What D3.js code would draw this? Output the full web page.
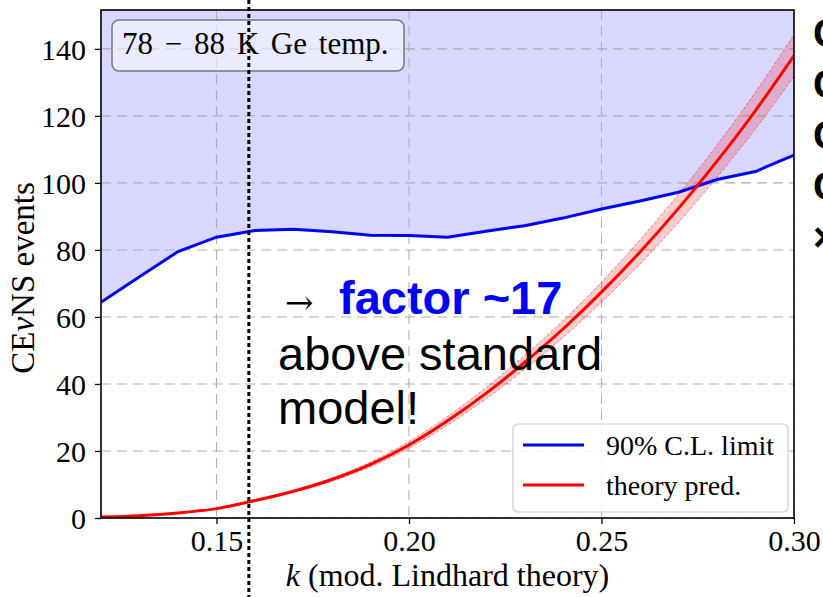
<!DOCTYPE html>
<html>
<head>
<meta charset="utf-8">
<script src="https://cdn.jsdelivr.net/npm/d3@7"></script>
<style>
  body { margin: 0; background: #fff; }
  svg { display: block; }
  .tick text { font-family: "Liberation Serif", serif; }
</style>
</head>
<body>
<div id="chart"></div>
<script>
// k values (mod. Lindhard theory)
let kValues = [0.12, 0.13, 0.14, 0.15, 0.16, 0.17, 0.18, 0.19, 0.20, 0.21,
               0.22, 0.23, 0.24, 0.25, 0.26, 0.27, 0.28, 0.29, 0.30];
// 90% C.L. limit
let limitValues = [64.4, 72.0, 79.5, 83.8, 85.8, 86.2, 85.4, 84.4, 84.3, 83.8,
                   85.6, 87.2, 89.5, 92.2, 94.6, 97.2, 101.0, 103.4, 108.3];
// theory prediction + band
let theoryValues = [0.3, 0.7, 1.5, 2.8, 5.2, 8.0, 11.5, 16.0, 21.8, 29.0,
                    37.2, 46.4, 56.4, 67.4, 79.4, 92.4, 106.5, 121.6, 138.0];
let theoryUpper = [0.31, 0.73, 1.57, 2.93, 5.43, 8.36, 12.0, 16.7, 22.8, 30.3,
                   38.9, 48.5, 58.9, 70.4, 83.0, 96.6, 111.3, 127.1, 144.2];
let theoryLower = [0.29, 0.67, 1.43, 2.67, 4.97, 7.64, 11.0, 15.3, 20.8, 27.7,
                   35.5, 44.3, 53.9, 64.4, 75.8, 88.2, 101.7, 116.1, 131.8];

let xTicks = [0.15, 0.20, 0.25, 0.30];
let yTicks = [0, 20, 40, 60, 80, 100, 120, 140];
let kThreshold = 0.1584;

let width = 823, height = 597;
let margin = {top: 10, right: 29, bottom: 79, left: 101};
let plotW = width - margin.left - margin.right,
    plotH = height - margin.top - margin.bottom;

let svg = d3.select("#chart").append("svg")
    .attr("width", width)
    .attr("height", height);

let x = d3.scaleLinear().domain([0.12, 0.30]).range([0, plotW]);
let y = d3.scaleLinear().domain([0, 151.6]).range([plotH, 0]);

let data = kValues.map((k, i) => ({
  k: k, limit: limitValues[i], th: theoryValues[i],
  lo: theoryLower[i], hi: theoryUpper[i]
}));

let g = svg.append("g").attr("transform", `translate(${margin.left},${margin.top})`);

g.append("clipPath").attr("id", "clip")
  .append("rect").attr("width", plotW).attr("height", plotH);

let plot = g.append("g").attr("clip-path", "url(#clip)");

// excluded region above the limit
plot.append("path")
  .datum(data)
  .attr("fill", "#0000ff")
  .attr("fill-opacity", 0.155)
  .attr("d", d3.area().x(d => x(d.k)).y0(0).y1(d => y(d.limit)));

// grid
plot.selectAll(".gx").data(xTicks).enter().append("line")
  .attr("x1", d => x(d)).attr("x2", d => x(d))
  .attr("y1", 0).attr("y2", plotH)
  .attr("stroke", "#b0b0b0").attr("stroke-width", 1.1)
  .attr("stroke-dasharray", "10,6");
plot.selectAll(".gy").data(yTicks).enter().append("line")
  .attr("x1", 0).attr("x2", plotW)
  .attr("y1", d => y(d)).attr("y2", d => y(d))
  .attr("stroke", "#b0b0b0").attr("stroke-width", 1.1)
  .attr("stroke-dasharray", "10,6");

// annotation text
let note = g.append("g")
  .attr("font-family", "'Liberation Sans', Arial, sans-serif")
  .attr("font-size", 47);
note.append("text").attr("x", 184).attr("y", 304)
  .attr("font-family", "'DejaVu Serif', serif").attr("font-size", 34)
  .text("→");
note.append("text").attr("x", 238).attr("y", 304)
  .attr("fill", "#0000ff").attr("font-weight", "bold")
  .text("factor ~17");
note.append("text").attr("x", 177).attr("y", 360).text("above standard");
note.append("text").attr("x", 177).attr("y", 414).text("model!");

// theory band
let curve = d3.curveMonotoneX;
plot.append("path")
  .datum(data)
  .attr("fill", "#ff0000").attr("fill-opacity", 0.2)
  .attr("d", d3.area().curve(curve).x(d => x(d.k)).y0(d => y(d.lo)).y1(d => y(d.hi)));
["lo", "hi"].forEach(key => {
  plot.append("path")
    .datum(data)
    .attr("fill", "none").attr("stroke", "#ff0000").attr("stroke-opacity", 0.6)
    .attr("stroke-width", 0.8).attr("stroke-dasharray", "3,2")
    .attr("d", d3.line().curve(curve).x(d => x(d.k)).y(d => y(d[key])));
});

plot.append("path")
  .datum(data)
  .attr("fill", "none").attr("stroke", "#0000ff").attr("stroke-width", 3)
  .attr("d", d3.line().x(d => x(d.k)).y(d => y(d.limit)));

plot.append("path")
  .datum(data)
  .attr("fill", "none").attr("stroke", "#ff0000").attr("stroke-width", 3)
  .attr("d", d3.line().curve(curve).x(d => x(d.k)).y(d => y(d.th)));

// axes
let xAxis = g.append("g")
  .attr("transform", `translate(0,${plotH})`)
  .call(d3.axisBottom(x).tickValues(xTicks).tickFormat(d3.format(".2f")).tickSize(6).tickPadding(6));
let yAxis = g.append("g")
  .call(d3.axisLeft(y).tickValues(yTicks).tickSize(6).tickPadding(9));
[xAxis, yAxis].forEach(a => {
  a.select(".domain").remove();
  a.selectAll(".tick line").attr("stroke", "#000").attr("stroke-width", 1.3);
  a.selectAll(".tick text").attr("font-size", 30).attr("fill", "#000");
});
yAxis.selectAll(".tick text").attr("dy", "0.34em");

g.append("rect")
  .attr("width", plotW).attr("height", plotH)
  .attr("fill", "none").attr("stroke", "#000").attr("stroke-width", 1.6);

// axis labels
let xl = svg.append("text")
  .attr("x", margin.left + plotW / 2).attr("y", 586)
  .attr("text-anchor", "middle")
  .attr("font-family", "'Liberation Serif', serif").attr("font-size", 32);
xl.append("tspan").attr("font-style", "italic").text("k");
xl.append("tspan").text(" (mod. Lindhard theory)");

let yl = svg.append("text")
  .attr("transform", `translate(34,278) rotate(-90)`)
  .attr("text-anchor", "middle")
  .attr("font-family", "'Liberation Serif', serif").attr("font-size", 33);
yl.append("tspan").text("CE");
yl.append("tspan").attr("font-style", "italic").text("ν");
yl.append("tspan").text("NS events");

// legend
let leg = g.append("g").attr("transform", "translate(412,414)");
leg.append("rect")
  .attr("width", 275).attr("height", 88).attr("rx", 5)
  .attr("fill", "#fff").attr("fill-opacity", 0.85)
  .attr("stroke", "#cccccc").attr("stroke-width", 1.2);
[["90% C.L. limit", "#0000ff"], ["theory pred.", "#ff0000"]].forEach((d, i) => {
  leg.append("line")
    .attr("x1", 10).attr("x2", 71)
    .attr("y1", 21 + i * 40).attr("y2", 21 + i * 40)
    .attr("stroke", d[1]).attr("stroke-width", 3);
  leg.append("text")
    .attr("x", 93).attr("y", 31 + i * 40)
    .attr("font-family", "'Liberation Serif', serif").attr("font-size", 28)
    .text(d[0]);
});

// temperature box
let tb = g.append("g").attr("transform", "translate(11,10)");
tb.append("rect")
  .attr("width", 292).attr("height", 51).attr("rx", 7)
  .attr("fill", "#fff").attr("fill-opacity", 0.5)
  .attr("stroke", "#777").attr("stroke-width", 1.5);
tb.append("text")
  .attr("x", 10).attr("y", 34)
  .attr("font-family", "'Liberation Serif', serif").attr("font-size", 31)
  .attr("word-spacing", 4)
  .text("78 − 88 K Ge temp.");

// threshold line across whole figure
svg.append("line")
  .attr("x1", margin.left + x(kThreshold)).attr("x2", margin.left + x(kThreshold))
  .attr("y1", 0).attr("y2", height)
  .attr("stroke", "#000").attr("stroke-width", 3)
  .attr("stroke-dasharray", "4,3");

// cut-off slide text on the right
let side = svg.append("g")
  .attr("font-family", "'Liberation Sans', Arial, sans-serif")
  .attr("font-weight", "bold").attr("font-size", 40);
["C", "C", "C", "C", "×"].forEach((t, i) => {
  side.append("text").attr("x", 813).attr("y", 47 + i * 51).text(t);
});
</script>
</body>
</html>
